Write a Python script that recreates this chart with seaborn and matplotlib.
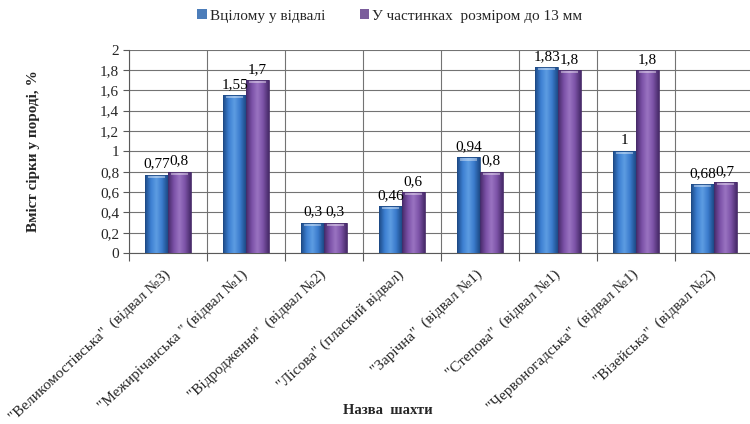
import numpy as np
import pandas as pd
import matplotlib
matplotlib.use("Agg")
import matplotlib.pyplot as plt
from matplotlib.colors import LinearSegmentedColormap
import seaborn as sns

# Sulphur content in rock dumps of the mines
mines = [
    '"Великомостівська"  (відвал №3)',
    '"Межирічанська " (відвал №1)',
    '"Відродження"  (відвал №2)',
    '"Лісова" (плаский відвал)',
    '"Зарічна"  (відвал №1)',
    '"Степова"  (відвал №1)',
    '"Червоногадська"  (відвал №1)',
    '"Візейська"  (відвал №2)',
]
whole_dump = [0.77, 1.55, 0.3, 0.46, 0.94, 1.83, 1.0, 0.68]
fine_fraction = [0.8, 1.7, 0.3, 0.6, 0.8, 1.8, 1.8, 0.7]
series_names = ["Вцілому у відвалі", "У частинках  розміром до 13 мм"]
y_ticks = [0, 0.2, 0.4, 0.6, 0.8, 1, 1.2, 1.4, 1.6, 1.8, 2]

df = pd.DataFrame({
    "mine": mines * 2,
    "value": whole_dump + fine_fraction,
    "series": [series_names[0]] * len(mines) + [series_names[1]] * len(mines),
})

sns.set_theme(style="white")
plt.rcParams["font.family"] = ["Liberation Serif", "DejaVu Serif"]

FS = 11
colors = ["#3a7bcc", "#7b52a6"]
shades = {
    "#3a7bcc": ["#1d4a86", "#3c7fd2", "#5e9de2", "#3a7bcc", "#1d4a86"],
    "#7b52a6": ["#472a69", "#7a50a6", "#9a74c2", "#7b52a6", "#472a69"],
}

fig = plt.figure(figsize=(7.5, 4.24), dpi=100)
ax = fig.add_axes([0.172, 0.403, 0.832, 0.480])

sns.barplot(data=df, x="mine", y="value", hue="series", palette=colors,
            width=0.58, gap=0.0, ax=ax, legend=True, zorder=3,
            edgecolor="none", linewidth=0)

# Bevelled look: horizontal gradient inside each bar with a light top cap
for container, base in zip(ax.containers, colors):
    cmap = LinearSegmentedColormap.from_list("bevel", shades[base])
    grad = np.linspace(0, 1, 64).reshape(1, -1)
    for bar in container:
        x0, w, h = bar.get_x(), bar.get_width(), bar.get_height()
        bar.set_facecolor("none")
        im = ax.imshow(grad, cmap=cmap, aspect="auto", zorder=3,
                       extent=(x0, x0 + w, 0, h), interpolation="bicubic")
        im.set_clip_path(bar)
        cap = plt.Rectangle((x0 + w * 0.12, h - 0.03), w * 0.76, 0.027,
                            facecolor="white", alpha=0.4, zorder=4,
                            edgecolor="none")
        ax.add_patch(cap)
        bar.set_edgecolor(shades[base][0])
        bar.set_linewidth(0.6)
        bar.set_zorder(5)

    labels = [f"{v:g}".replace(".", ",") for v in container.datavalues]
    ax.bar_label(container, labels=labels, padding=3, fontsize=FS,
                 color="black", zorder=6)

ax.set_xlim(-0.5, len(mines) - 0.5)
ax.set_ylim(0, 2)
ax.set_yticks(y_ticks)
ax.set_yticklabels([f"{t:g}".replace(".", ",") for t in y_ticks], fontsize=FS)

# Category labels at centres, ticks and vertical grid at boundaries
ax.set_xticks(range(len(mines)))
ax.set_xticklabels(mines, rotation=43, ha="right", rotation_mode="anchor",
                   fontsize=FS)
ax.set_xticks(np.arange(-0.5, len(mines), 1.0), minor=True)
ax.tick_params(axis="x", which="major", length=0, pad=14)
ax.tick_params(axis="x", which="minor", length=6, width=0.8, color="#595959",
               direction="out", bottom=True)
ax.tick_params(axis="y", length=4, width=0.8, color="#595959",
               direction="out", left=True, pad=3)
for lbl in ax.get_xticklabels():
    lbl.set_va("center")

ax.grid(axis="y", which="major", color="#737373", linewidth=0.8, zorder=0)
ax.grid(axis="x", which="minor", color="#737373", linewidth=0.8, zorder=0)
ax.set_axisbelow(True)

for side in ["top", "right"]:
    ax.spines[side].set_visible(False)
ax.spines["left"].set_color("#595959")
ax.spines["bottom"].set_color("#595959")
ax.spines["left"].set_linewidth(0.8)
ax.spines["bottom"].set_linewidth(0.8)

ax.set_xlabel("")
ax.set_ylabel("Вміст сірки у породі, %", fontsize=FS, fontweight="bold")
ax.yaxis.set_label_coords((40 - 129) / 624, 0.5)
fig.text(388 / 750, 1 - 410 / 424, "Назва  шахти", ha="center", va="center",
         fontsize=10.5, fontweight="bold")

handles, _ = ax.get_legend_handles_labels()
ax.legend(handles, series_names, loc="center", bbox_to_anchor=(390 / 750, 1 - 16 / 424),
          bbox_transform=fig.transFigure, ncol=2, frameon=False, fontsize=FS,
          handlelength=0.6, handleheight=0.6, handletextpad=0.2,
          columnspacing=2.3)

fig.savefig("out.png", dpi=100)
